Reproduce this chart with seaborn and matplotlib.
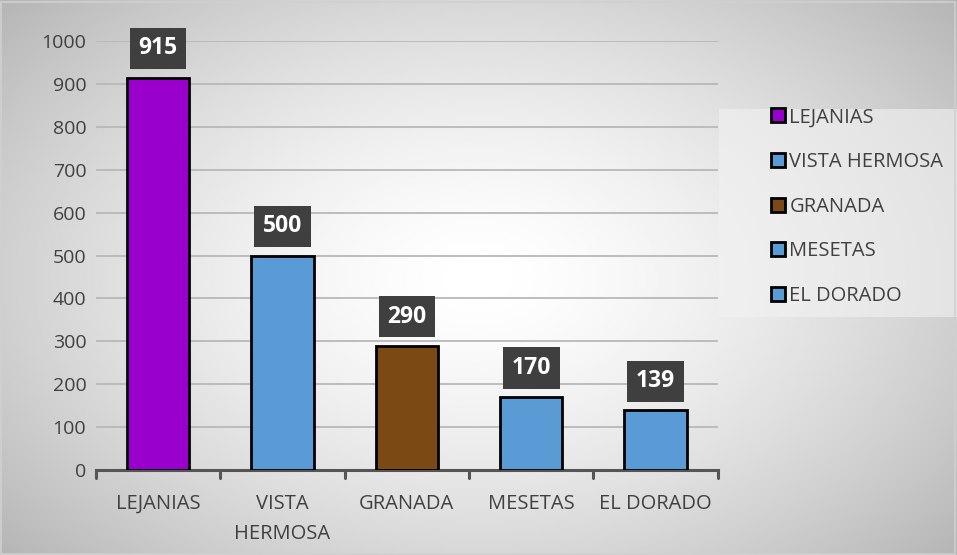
import numpy as np
import pandas as pd
import matplotlib
matplotlib.use("Agg")
import matplotlib.pyplot as plt
from matplotlib.patches import Patch
import seaborn as sns

# Data
categories = ["LEJANIAS", "VISTA HERMOSA", "GRANADA", "MESETAS", "EL DORADO"]
tick_labels = ["LEJANIAS", "VISTA\nHERMOSA", "GRANADA", "MESETAS", "EL DORADO"]
values = [915, 500, 290, 170, 139]
colors = ["#9900cc", "#5b9bd5", "#7b4a14", "#5b9bd5", "#5b9bd5"]

sns.set_theme(style="white")
plt.rcParams["font.family"] = ["Open Sans", "DejaVu Sans"]

df = pd.DataFrame({"zona": categories, "total": values})

fig = plt.figure(figsize=(9.57, 5.55), dpi=100)

# gradient background over the whole figure
bg = fig.add_axes([0, 0, 1, 1], zorder=-10)
xx, yy = np.meshgrid(np.linspace(-1, 1, 400), np.linspace(-1, 1, 240))
r = np.sqrt((xx * 0.9) ** 2 + (yy * 0.8) ** 2)
shade = 1.0 - 0.22 * np.clip(r, 0, 1.4) ** 1.5
bg.imshow(shade, cmap="gray", vmin=0, vmax=1, aspect="auto", extent=[0, 1, 0, 1])
bg.set_axis_off()
fig.patches.append(plt.Rectangle((0.001, 0.002), 0.997, 0.995, transform=fig.transFigure,
                                 fill=False, edgecolor="#d0d0d0", linewidth=1.2))

ax = fig.add_axes([0.1003, 0.153, 0.6497, 0.773])
ax.patch.set_alpha(0)

sns.barplot(data=df, x="zona", y="total", hue="zona", palette=colors, legend=False,
            width=0.5, edgecolor="black", linewidth=2, ax=ax, zorder=3, saturation=1)

ax.set_ylim(0, 1000)
ax.set_xlim(-0.5, len(categories) - 0.5)
ax.set_yticks(range(0, 1001, 100))
ax.yaxis.grid(True, color="#b8b8b8", linewidth=1.3, zorder=0)
ax.set_axisbelow(True)
for s in ["top", "right", "left"]:
    ax.spines[s].set_visible(False)
ax.spines["bottom"].set_color("#555555")
ax.spines["bottom"].set_linewidth(2.2)
ax.set_xlabel("")
ax.set_ylabel("")

ax.set_xticks(range(len(categories)))
ax.set_xticklabels(tick_labels, fontsize=14.5, color="#404040", va="top", linespacing=1.7)
ax.tick_params(axis="x", length=0, pad=17)
ax.tick_params(axis="y", length=0, labelsize=14, labelcolor="#404040", pad=7)

# category boundary ticks on the x axis
for b in np.arange(-0.5, len(categories), 1.0):
    ax.plot([b, b], [0, -0.018], transform=ax.get_xaxis_transform(), color="#555555",
            linewidth=2.2, clip_on=False, zorder=4)

# value labels in dark boxes
for i, v in enumerate(values):
    ax.annotate(str(v), xy=(i, v), xytext=(0, 21), textcoords="offset points",
                ha="center", va="center", fontsize=16.5, fontweight="bold", color="white",
                annotation_clip=False, zorder=5,
                bbox=dict(boxstyle="square,pad=0.38", facecolor="#3f3f3f", edgecolor="none"))

# legend panel
fig.patches.append(plt.Rectangle((0.751, 0.428), 0.249, 0.375, transform=fig.transFigure,
                                 facecolor="#f2f2f2", edgecolor="none", alpha=0.6, zorder=-5))
handles = [Patch(facecolor=c, edgecolor="black", linewidth=2) for c in colors]
leg = fig.legend(handles, categories, loc="upper left", bbox_to_anchor=(0.787, 0.839),
                 frameon=False, fontsize=14.5, labelspacing=1.22, handlelength=0.7,
                 handleheight=0.7, handletextpad=0.2, labelcolor="#404040")

fig.savefig("out.png", dpi=100)
